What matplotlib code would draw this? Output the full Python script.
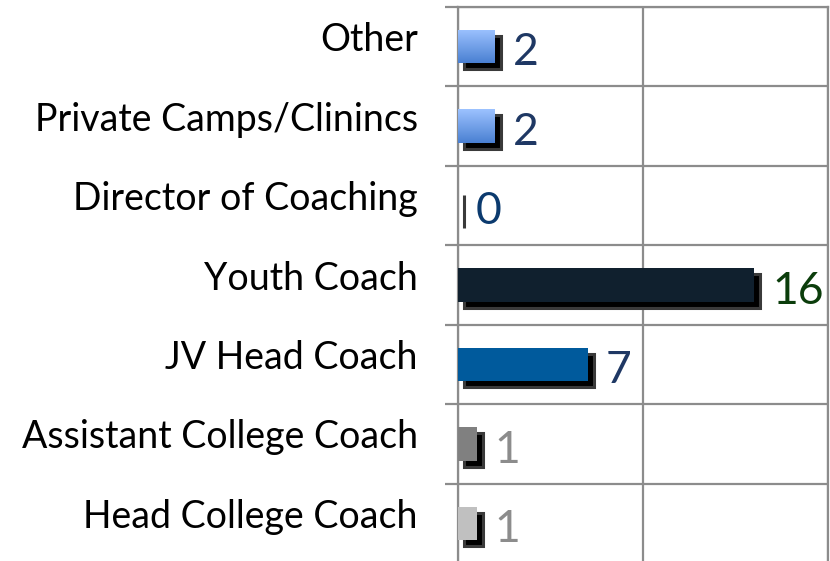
import numpy as np
import matplotlib
matplotlib.use('Agg')
import matplotlib.pyplot as plt
from matplotlib import transforms

# data, top to bottom as in the picture
categories = ['Other', 'Private Camps/Clinincs', 'Director of Coaching',
              'Youth Coach', 'JV Head Coach', 'Assistant College Coach',
              'Head College Coach']
counts = [2, 2, 0, 16, 7, 1, 1]
bar_colors = ['#6E9EE8', '#6E9EE8', '#7F7F7F', '#10202E', '#005A9C', '#808080', '#C0C0C0']
label_colors = ['#1F3864', '#1F3864', '#0B3A6E', '#0B3D0B', '#1F3864', '#8C8C8C', '#8C8C8C']
gradient_bars = [True, True, False, False, False, False, False]

plt.rcParams['font.family'] = ['Lato', 'DejaVu Sans']

fig = plt.figure(figsize=(8.3, 5.61), dpi=100)
ax = fig.add_axes([458 / 830, -2 / 561, 370 / 830, 556 / 561])

ypos = np.arange(len(categories))
bh = 0.42
grid_col = '#8C8C8C'

# shadows, shifted a few pixels right and down
shadow_tr = transforms.offset_copy(ax.transData, fig=fig, x=6, y=-6, units='dots')
ax.barh(ypos, counts, height=bh, color='black', edgecolor='#3A3A3A',
        linewidth=2.2, transform=shadow_tr, zorder=2)

bars = ax.barh(ypos, counts, height=bh, color=bar_colors, linewidth=0, zorder=3)

# gradient fill for the light blue bars
grad = np.linspace(0, 1, 100).reshape(-1, 1)
cmap = matplotlib.colors.LinearSegmentedColormap.from_list('lb', ['#9CC2FF', '#4A80D2'])
for b, g in zip(bars, gradient_bars):
    if g:
        x0, y0 = b.get_x(), b.get_y()
        w, h = b.get_width(), b.get_height()
        im = ax.imshow(grad, cmap=cmap, aspect='auto', extent=[x0, x0 + w, y0 + h, y0],
                       zorder=4)
        im.set_clip_path(b)

for y, v, c in zip(ypos, counts, label_colors):
    ax.annotate(str(v), (v, y), xytext=(13, -4.5), textcoords='offset points',
                ha='left', va='center', fontsize=32, color=c, zorder=5)

ax.set_xlim(0, 20)
ax.set_ylim(len(categories) - 0.5, -0.5)

ax.set_xticks([0, 10, 20])
ax.tick_params(axis='x', length=0, labelbottom=False)
ax.xaxis.grid(True, color=grid_col, linewidth=1.6, zorder=0)

ax.set_yticks(ypos)
ax.set_yticklabels(categories, fontsize=27)
ax.tick_params(axis='y', which='major', length=0, pad=29)
ax.set_yticks(np.arange(-0.5, len(categories), 1), minor=True)
ax.tick_params(axis='y', which='minor', length=9.5, width=1.6, color=grid_col)
ax.yaxis.grid(True, which='minor', color=grid_col, linewidth=1.6, zorder=0)

up = transforms.ScaledTranslation(0, 10 / 100, fig.dpi_scale_trans)
for lab in ax.get_yticklabels():
    lab.set_transform(lab.get_transform() + up)

for s in ax.spines.values():
    s.set_color(grid_col)
    s.set_linewidth(1.6)
ax.set_axisbelow(True)

fig.savefig('out.png', dpi=100)
